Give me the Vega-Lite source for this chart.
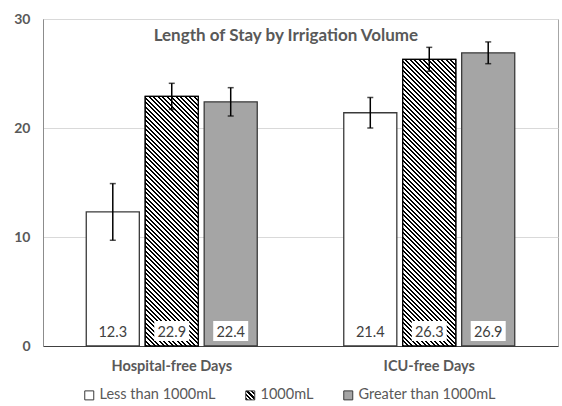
{
"$schema": "https://vega.github.io/schema/vega-lite/v6.json",
"width": 515,
"height": 327,
"autosize": {"type": "none"},
"padding": {"left": 43, "top": 19, "right": 4, "bottom": 60},
"background": "white",
"params": [
{"name": "hatch", "value": [{"offset":0,"color":"#000"},
{"offset":0.006,"color":"#000"},{"offset":0.006,"color":"#fff"},{"offset":0.012,"color":"#fff"},{"offset":0.012,"color":"#000"},
{"offset":0.018,"color":"#000"},{"offset":0.018,"color":"#fff"},{"offset":0.024,"color":"#fff"},{"offset":0.024,"color":"#000"},
{"offset":0.03,"color":"#000"},{"offset":0.03,"color":"#fff"},{"offset":0.036,"color":"#fff"},{"offset":0.036,"color":"#000"},
{"offset":0.042,"color":"#000"},{"offset":0.042,"color":"#fff"},{"offset":0.048,"color":"#fff"},{"offset":0.048,"color":"#000"},
{"offset":0.054,"color":"#000"},{"offset":0.054,"color":"#fff"},{"offset":0.06,"color":"#fff"},{"offset":0.06,"color":"#000"},
{"offset":0.066,"color":"#000"},{"offset":0.066,"color":"#fff"},{"offset":0.072,"color":"#fff"},{"offset":0.072,"color":"#000"},
{"offset":0.078,"color":"#000"},{"offset":0.078,"color":"#fff"},{"offset":0.084,"color":"#fff"},{"offset":0.084,"color":"#000"},
{"offset":0.09,"color":"#000"},{"offset":0.09,"color":"#fff"},{"offset":0.096,"color":"#fff"},{"offset":0.096,"color":"#000"},
{"offset":0.102,"color":"#000"},{"offset":0.102,"color":"#fff"},{"offset":0.108,"color":"#fff"},{"offset":0.108,"color":"#000"},
{"offset":0.114,"color":"#000"},{"offset":0.114,"color":"#fff"},{"offset":0.12,"color":"#fff"},{"offset":0.12,"color":"#000"},
{"offset":0.126,"color":"#000"},{"offset":0.126,"color":"#fff"},{"offset":0.132,"color":"#fff"},{"offset":0.132,"color":"#000"},
{"offset":0.138,"color":"#000"},{"offset":0.138,"color":"#fff"},{"offset":0.144,"color":"#fff"},{"offset":0.144,"color":"#000"},
{"offset":0.15,"color":"#000"},{"offset":0.15,"color":"#fff"},{"offset":0.156,"color":"#fff"},{"offset":0.156,"color":"#000"},
{"offset":0.162,"color":"#000"},{"offset":0.162,"color":"#fff"},{"offset":0.168,"color":"#fff"},{"offset":0.168,"color":"#000"},
{"offset":0.174,"color":"#000"},{"offset":0.174,"color":"#fff"},{"offset":0.18,"color":"#fff"},{"offset":0.18,"color":"#000"},
{"offset":0.186,"color":"#000"},{"offset":0.186,"color":"#fff"},{"offset":0.192,"color":"#fff"},{"offset":0.192,"color":"#000"},
{"offset":0.198,"color":"#000"},{"offset":0.198,"color":"#fff"},{"offset":0.204,"color":"#fff"},{"offset":0.204,"color":"#000"},
{"offset":0.21,"color":"#000"},{"offset":0.21,"color":"#fff"},{"offset":0.216,"color":"#fff"},{"offset":0.216,"color":"#000"},
{"offset":0.222,"color":"#000"},{"offset":0.222,"color":"#fff"},{"offset":0.228,"color":"#fff"},{"offset":0.228,"color":"#000"},
{"offset":0.234,"color":"#000"},{"offset":0.234,"color":"#fff"},{"offset":0.24,"color":"#fff"},{"offset":0.24,"color":"#000"},
{"offset":0.246,"color":"#000"},{"offset":0.246,"color":"#fff"},{"offset":0.252,"color":"#fff"},{"offset":0.252,"color":"#000"},
{"offset":0.258,"color":"#000"},{"offset":0.258,"color":"#fff"},{"offset":0.264,"color":"#fff"},{"offset":0.264,"color":"#000"},
{"offset":0.27,"color":"#000"},{"offset":0.27,"color":"#fff"},{"offset":0.276,"color":"#fff"},{"offset":0.276,"color":"#000"},
{"offset":0.282,"color":"#000"},{"offset":0.282,"color":"#fff"},{"offset":0.288,"color":"#fff"},{"offset":0.288,"color":"#000"},
{"offset":0.294,"color":"#000"},{"offset":0.294,"color":"#fff"},{"offset":0.3,"color":"#fff"},{"offset":0.3,"color":"#000"},
{"offset":0.306,"color":"#000"},{"offset":0.306,"color":"#fff"},{"offset":0.312,"color":"#fff"},{"offset":0.312,"color":"#000"},
{"offset":0.318,"color":"#000"},{"offset":0.318,"color":"#fff"},{"offset":0.324,"color":"#fff"},{"offset":0.324,"color":"#000"},
{"offset":0.33,"color":"#000"},{"offset":0.33,"color":"#fff"},{"offset":0.336,"color":"#fff"},{"offset":0.336,"color":"#000"},
{"offset":0.342,"color":"#000"},{"offset":0.342,"color":"#fff"},{"offset":0.348,"color":"#fff"},{"offset":0.348,"color":"#000"},
{"offset":0.354,"color":"#000"},{"offset":0.354,"color":"#fff"},{"offset":0.36,"color":"#fff"},{"offset":0.36,"color":"#000"},
{"offset":0.366,"color":"#000"},{"offset":0.366,"color":"#fff"},{"offset":0.372,"color":"#fff"},{"offset":0.372,"color":"#000"},
{"offset":0.378,"color":"#000"},{"offset":0.378,"color":"#fff"},{"offset":0.384,"color":"#fff"},{"offset":0.384,"color":"#000"},
{"offset":0.39,"color":"#000"},{"offset":0.39,"color":"#fff"},{"offset":0.396,"color":"#fff"},{"offset":0.396,"color":"#000"},
{"offset":0.402,"color":"#000"},{"offset":0.402,"color":"#fff"},{"offset":0.408,"color":"#fff"},{"offset":0.408,"color":"#000"},
{"offset":0.414,"color":"#000"},{"offset":0.414,"color":"#fff"},{"offset":0.42,"color":"#fff"},{"offset":0.42,"color":"#000"},
{"offset":0.426,"color":"#000"},{"offset":0.426,"color":"#fff"},{"offset":0.432,"color":"#fff"},{"offset":0.432,"color":"#000"},
{"offset":0.438,"color":"#000"},{"offset":0.438,"color":"#fff"},{"offset":0.444,"color":"#fff"},{"offset":0.444,"color":"#000"},
{"offset":0.45,"color":"#000"},{"offset":0.45,"color":"#fff"},{"offset":0.456,"color":"#fff"},{"offset":0.456,"color":"#000"},
{"offset":0.462,"color":"#000"},{"offset":0.462,"color":"#fff"},{"offset":0.468,"color":"#fff"},{"offset":0.468,"color":"#000"},
{"offset":0.474,"color":"#000"},{"offset":0.474,"color":"#fff"},{"offset":0.48,"color":"#fff"},{"offset":0.48,"color":"#000"},
{"offset":0.486,"color":"#000"},{"offset":0.486,"color":"#fff"},{"offset":0.492,"color":"#fff"},{"offset":0.492,"color":"#000"},
{"offset":0.498,"color":"#000"},{"offset":0.498,"color":"#fff"},{"offset":0.504,"color":"#fff"},{"offset":0.504,"color":"#000"},
{"offset":0.51,"color":"#000"},{"offset":0.51,"color":"#fff"},{"offset":0.516,"color":"#fff"},{"offset":0.516,"color":"#000"},
{"offset":0.522,"color":"#000"},{"offset":0.522,"color":"#fff"},{"offset":0.528,"color":"#fff"},{"offset":0.528,"color":"#000"},
{"offset":0.534,"color":"#000"},{"offset":0.534,"color":"#fff"},{"offset":0.54,"color":"#fff"},{"offset":0.54,"color":"#000"},
{"offset":0.546,"color":"#000"},{"offset":0.546,"color":"#fff"},{"offset":0.552,"color":"#fff"},{"offset":0.552,"color":"#000"},
{"offset":0.558,"color":"#000"},{"offset":0.558,"color":"#fff"},{"offset":0.564,"color":"#fff"},{"offset":0.564,"color":"#000"},
{"offset":0.57,"color":"#000"},{"offset":0.57,"color":"#fff"},{"offset":0.576,"color":"#fff"},{"offset":0.576,"color":"#000"},
{"offset":0.582,"color":"#000"},{"offset":0.582,"color":"#fff"},{"offset":0.588,"color":"#fff"},{"offset":0.588,"color":"#000"},
{"offset":0.594,"color":"#000"},{"offset":0.594,"color":"#fff"},{"offset":0.6,"color":"#fff"},{"offset":0.6,"color":"#000"},
{"offset":0.606,"color":"#000"},{"offset":0.606,"color":"#fff"},{"offset":0.612,"color":"#fff"},{"offset":0.612,"color":"#000"},
{"offset":0.618,"color":"#000"},{"offset":0.618,"color":"#fff"},{"offset":0.624,"color":"#fff"},{"offset":0.624,"color":"#000"},
{"offset":0.63,"color":"#000"},{"offset":0.63,"color":"#fff"},{"offset":0.636,"color":"#fff"},{"offset":0.636,"color":"#000"},
{"offset":0.642,"color":"#000"},{"offset":0.642,"color":"#fff"},{"offset":0.648,"color":"#fff"},{"offset":0.648,"color":"#000"},
{"offset":0.654,"color":"#000"},{"offset":0.654,"color":"#fff"},{"offset":0.66,"color":"#fff"},{"offset":0.66,"color":"#000"},
{"offset":0.666,"color":"#000"},{"offset":0.666,"color":"#fff"},{"offset":0.672,"color":"#fff"},{"offset":0.672,"color":"#000"},
{"offset":0.678,"color":"#000"},{"offset":0.678,"color":"#fff"},{"offset":0.684,"color":"#fff"},{"offset":0.684,"color":"#000"},
{"offset":0.69,"color":"#000"},{"offset":0.69,"color":"#fff"},{"offset":0.696,"color":"#fff"},{"offset":0.696,"color":"#000"},
{"offset":0.702,"color":"#000"},{"offset":0.702,"color":"#fff"},{"offset":0.708,"color":"#fff"},{"offset":0.708,"color":"#000"},
{"offset":0.714,"color":"#000"},{"offset":0.714,"color":"#fff"},{"offset":0.72,"color":"#fff"},{"offset":0.72,"color":"#000"},
{"offset":0.726,"color":"#000"},{"offset":0.726,"color":"#fff"},{"offset":0.732,"color":"#fff"},{"offset":0.732,"color":"#000"},
{"offset":0.738,"color":"#000"},{"offset":0.738,"color":"#fff"},{"offset":0.744,"color":"#fff"},{"offset":0.744,"color":"#000"},
{"offset":0.75,"color":"#000"},{"offset":0.75,"color":"#fff"},{"offset":0.756,"color":"#fff"},{"offset":0.756,"color":"#000"},
{"offset":0.762,"color":"#000"},{"offset":0.762,"color":"#fff"},{"offset":0.768,"color":"#fff"},{"offset":0.768,"color":"#000"},
{"offset":0.774,"color":"#000"},{"offset":0.774,"color":"#fff"},{"offset":0.78,"color":"#fff"},{"offset":0.78,"color":"#000"},
{"offset":0.786,"color":"#000"},{"offset":0.786,"color":"#fff"},{"offset":0.792,"color":"#fff"},{"offset":0.792,"color":"#000"},
{"offset":0.798,"color":"#000"},{"offset":0.798,"color":"#fff"},{"offset":0.804,"color":"#fff"},{"offset":0.804,"color":"#000"},
{"offset":0.81,"color":"#000"},{"offset":0.81,"color":"#fff"},{"offset":0.816,"color":"#fff"},{"offset":0.816,"color":"#000"},
{"offset":0.822,"color":"#000"},{"offset":0.822,"color":"#fff"},{"offset":0.828,"color":"#fff"},{"offset":0.828,"color":"#000"},
{"offset":0.834,"color":"#000"},{"offset":0.834,"color":"#fff"},{"offset":0.84,"color":"#fff"},{"offset":0.84,"color":"#000"},
{"offset":0.846,"color":"#000"},{"offset":0.846,"color":"#fff"},{"offset":0.852,"color":"#fff"},{"offset":0.852,"color":"#000"},
{"offset":0.858,"color":"#000"},{"offset":0.858,"color":"#fff"},{"offset":0.864,"color":"#fff"},{"offset":0.864,"color":"#000"},
{"offset":0.87,"color":"#000"},{"offset":0.87,"color":"#fff"},{"offset":0.876,"color":"#fff"},{"offset":0.876,"color":"#000"},
{"offset":0.882,"color":"#000"},{"offset":0.882,"color":"#fff"},{"offset":0.888,"color":"#fff"},{"offset":0.888,"color":"#000"},
{"offset":0.894,"color":"#000"},{"offset":0.894,"color":"#fff"},{"offset":0.9,"color":"#fff"},{"offset":0.9,"color":"#000"},
{"offset":0.906,"color":"#000"},{"offset":0.906,"color":"#fff"},{"offset":0.912,"color":"#fff"},{"offset":0.912,"color":"#000"},
{"offset":1,"color":"#000"}]},
{"name": "hatchS", "value": [{"offset":0,"color":"#000"},{"offset":0.125,"color":"#000"},{"offset":0.125,"color":"#fff"},{"offset":0.25,"color":"#fff"},{"offset":0.25,"color":"#000"},{"offset":0.375,"color":"#000"},{"offset":0.375,"color":"#fff"},{"offset":0.5,"color":"#fff"},{"offset":0.5,"color":"#000"},{"offset":0.625,"color":"#000"},{"offset":0.625,"color":"#fff"},{"offset":0.75,"color":"#fff"},{"offset":0.75,"color":"#000"},{"offset":0.875,"color":"#000"},{"offset":0.875,"color":"#fff"},{"offset":1,"color":"#fff"}]}
],
"title": {"text": "Length of Stay by Irrigation Volume", "font": "Lato", "fontSize": 17, "fontWeight": "bold", "color": "#595959", "anchor": "middle", "frame": "bounds", "offset": -33},
"data": {"values": [
{"measure": "Hospital-free Days", "volume": "Less than 1000mL", "value": 12.3, "lo": 9.7, "hi": 14.9},
{"measure": "Hospital-free Days", "volume": "1000mL", "value": 22.9, "lo": 21.7, "hi": 24.1},
{"measure": "Hospital-free Days", "volume": "Greater than 1000mL", "value": 22.4, "lo": 21.1, "hi": 23.7},
{"measure": "ICU-free Days", "volume": "Less than 1000mL", "value": 21.4, "lo": 20.0, "hi": 22.8},
{"measure": "ICU-free Days", "volume": "1000mL", "value": 26.3, "lo": 25.2, "hi": 27.4},
{"measure": "ICU-free Days", "volume": "Greater than 1000mL", "value": 26.9, "lo": 25.9, "hi": 27.9}
]},
"encoding": {
"x": {"field": "measure", "type": "nominal", "scale": {"domain": ["Hospital-free Days", "ICU-free Days"], "paddingInner": 0.336, "paddingOuter": 0.168},
 "axis": {"title": null, "labelAngle": 0, "ticks": false, "domainColor": "#404040", "domainWidth": 1, "labelFont": "Lato", "labelFontWeight": "bold", "labelFontSize": 14.5, "labelColor": "#595959", "labelPadding": 13, "grid": false}},
"xOffset": {"field": "volume", "type": "nominal", "scale": {"domain": ["Less than 1000mL", "1000mL", "Greater than 1000mL"], "paddingInner": 0.1, "paddingOuter": 0}}
},
"layer": [
{"mark": {"type": "bar", "stroke": "#3a3a3a", "strokeWidth": 1.3},
 "encoding": {
  "y": {"field": "value", "type": "quantitative", "scale": {"domain": [0, 30], "nice": false},
   "axis": {"title": null, "values": [0, 10, 20, 30], "grid": true, "gridColor": "#d9d9d9", "ticks": false, "domainColor": "#8c8c8c", "labelFont": "Lato", "labelFontWeight": "bold", "labelFontSize": 14, "labelColor": "#595959", "labelPadding": 13}},
  "fill": {"field": "volume", "type": "nominal", "scale": {"domain": ["Less than 1000mL", "1000mL", "Greater than 1000mL"], "range": ["#ffffff", {"expr": "{gradient: 'linear', x1: 0, y1: 1, x2: 1, y2: 0, stops: hatchS}"}, "#a5a5a5"]},
   "legend": {"title": null, "orient": "none", "legendX": 39, "legendY": 369, "direction": "horizontal", "symbolType": "square", "symbolSize": 81, "symbolStrokeWidth": 1, "symbolOpacity": 1, "labelFont": "Lato", "labelFontSize": 14.5, "labelColor": "#595959", "columnPadding": 27, "labelOffset": 3,
    "encode": {"symbols": {"update": {
      "stroke": {"signal": "datum.value === 'Less than 1000mL' ? '#808080' : '#000000'"}}}}}}
 }},
{"transform": [{"filter": "datum.volume === '1000mL' && datum.measure === 'Hospital-free Days'"}],
 "mark": {"type": "bar", "stroke": "#000000", "strokeWidth": 1.3, "fill": {"expr": "{gradient: 'linear', x1: 0, y1: 1, x2: 0.30563, y2: -0.43745, stops: hatch}"}},
 "encoding": {"y": {"field": "value", "type": "quantitative"}}},
{"transform": [{"filter": "datum.volume === '1000mL' && datum.measure === 'ICU-free Days'"}],
 "mark": {"type": "bar", "stroke": "#000000", "strokeWidth": 1.3, "fill": {"expr": "{gradient: 'linear', x1: 0, y1: 1, x2: 0.2341, y2: -0.26466, stops: hatch}"}},
 "encoding": {"y": {"field": "value", "type": "quantitative"}}},
{"mark": {"type": "rule", "color": "#000000", "strokeWidth": 1.5},
 "encoding": {"y": {"field": "lo", "type": "quantitative"}, "y2": {"field": "hi"}}},
{"mark": {"type": "tick", "color": "#000000", "size": 6, "thickness": 1.5},
 "encoding": {"y": {"field": "hi", "type": "quantitative"}}},
{"mark": {"type": "tick", "color": "#000000", "size": 6, "thickness": 1.5},
 "encoding": {"y": {"field": "lo", "type": "quantitative"}}},
{"mark": {"type": "bar", "fill": "#ffffff", "strokeWidth": 0, "width": 35},
 "encoding": {"y": {"datum": 0.45, "type": "quantitative"}, "y2": {"datum": 2.3}}},
{"mark": {"type": "text", "font": "Lato", "fontSize": 14.5, "color": "#404040", "baseline": "middle"},
 "encoding": {"y": {"datum": 1.2, "type": "quantitative"}, "text": {"field": "value", "type": "quantitative", "format": ".1f"}}}
],
"config": {"view": {"stroke": "#a6a6a6", "strokeWidth": 1}, "font": "Lato"}
}
